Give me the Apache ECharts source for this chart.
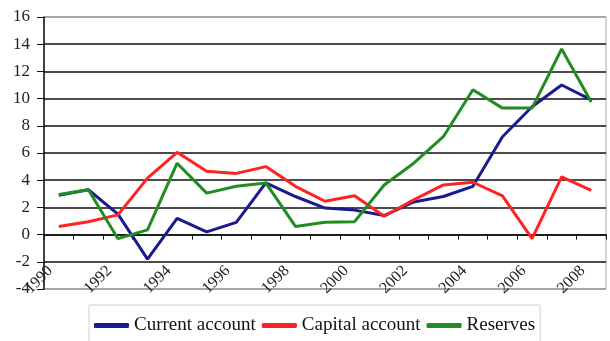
<!DOCTYPE html>
<html>
<head>
<meta charset="utf-8">
<script src="https://cdn.jsdelivr.net/npm/echarts@6/dist/echarts.min.js"></script>
<style>
html,body{margin:0;padding:0;background:#fff;}
#chart{width:610px;height:341px;}
</style>
</head>
<body>
<div id="chart"></div>
<script>
var years = ['1990','1991','1992','1993','1994','1995','1996','1997','1998','1999','2000','2001','2002','2003','2004','2005','2006','2007','2008'];
var currentAccount = [2.9, 3.3, 1.5, -1.8, 1.2, 0.2, 0.9, 3.8, 2.8, 1.95, 1.8, 1.4, 2.4, 2.8, 3.55, 7.2, 9.4, 11.0, 9.9];
var capitalAccount = [0.6, 0.95, 1.45, 4.15, 6.05, 4.65, 4.5, 5.0, 3.55, 2.45, 2.85, 1.35, 2.55, 3.65, 3.85, 2.85, -0.3, 4.25, 3.25];
var reserves = [2.95, 3.3, -0.3, 0.35, 5.25, 3.05, 3.55, 3.8, 0.6, 0.9, 0.95, 3.65, 5.25, 7.2, 10.65, 9.3, 9.3, 13.65, 9.75];
var seriesNames = ['Current account', 'Capital account', 'Reserves'];
var seriesColors = ['#1a1a8e', '#ff2222', '#228b22'];

var font = 'Liberation Serif';
var chart = echarts.init(document.getElementById('chart'), null, {renderer: 'canvas'});
var splitColors = ['#999'];
for (var i = 0; i < 9; i++) splitColors.push('#111');
splitColors.push('#999');

var option = {
  animation: false,
  backgroundColor: '#fff',
  textStyle: {fontFamily: font},
  grid: {left: 44, right: 4, top: 17, bottom: 52, show: true, borderColor: '#aaa', borderWidth: 1, outerBoundsMode: 'none', containLabel: false},
  legend: {
    data: seriesNames,
    left: 89, top: 305,
    padding: [11, 5, 12, 5],
    borderColor: '#d0d0d0', borderWidth: 1,
    itemWidth: 35, itemHeight: 5, itemGap: 6,
    icon: 'roundRect',
    textStyle: {fontFamily: font, fontSize: 19, color: '#111'}
  },
  xAxis: [{
    type: 'category',
    data: years,
    boundaryGap: true,
    position: 'bottom',
    axisLine: {onZero: true, lineStyle: {color: '#111', width: 1.5}},
    axisTick: {show: true, interval: 0, length: 5, lineStyle: {color: '#111'}},
    axisLabel: {show: false},
    splitLine: {show: false}
  }, {
    type: 'category',
    data: years,
    boundaryGap: true,
    position: 'bottom',
    axisLine: {show: false, onZero: false},
    axisTick: {show: false},
    axisLabel: {interval: 1, rotate: 45, margin: -29, padding: [0, 12, 0, 0], fontFamily: font, fontSize: 16, color: '#222'},
    splitLine: {show: false}
  }],
  yAxis: {
    type: 'value',
    min: -4, max: 16, interval: 2,
    axisLine: {show: true, lineStyle: {color: '#111', width: 1.5}},
    axisTick: {show: true, length: 7, lineStyle: {color: '#111'}},
    axisLabel: {margin: 14, fontFamily: font, fontSize: 17, color: '#222'},
    splitLine: {show: true, lineStyle: {color: splitColors, width: 1.5}}
  },
  series: [
    {name: seriesNames[0], type: 'line', data: currentAccount, symbol: 'none', color: seriesColors[0], lineStyle: {width: 3}},
    {name: seriesNames[1], type: 'line', data: capitalAccount, symbol: 'none', color: seriesColors[1], lineStyle: {width: 3}},
    {name: seriesNames[2], type: 'line', data: reserves, symbol: 'none', color: seriesColors[2], lineStyle: {width: 3}}
  ]
};
chart.setOption(option);
</script>
</body>
</html>
